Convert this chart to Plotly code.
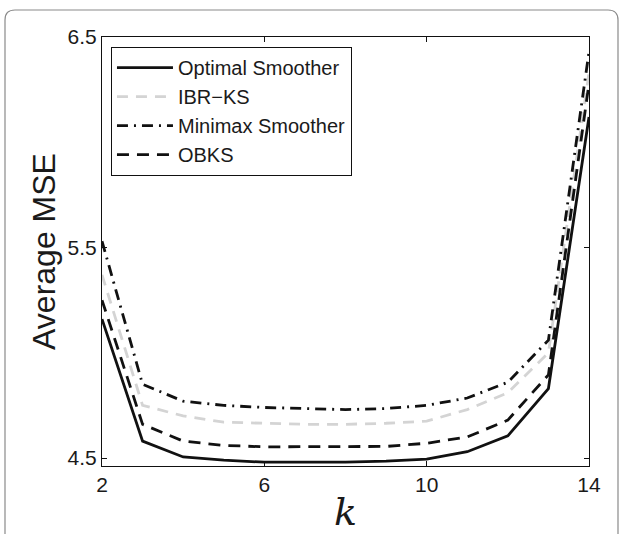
import plotly.graph_objects as go

k = [2, 3, 4, 5, 6, 7, 8, 9, 10, 11, 12, 13, 14]
optimal = [5.16, 4.58, 4.505, 4.49, 4.48, 4.48, 4.48, 4.485, 4.495, 4.53, 4.605, 4.83, 6.12]
ibr_ks = [5.37, 4.75, 4.70, 4.67, 4.665, 4.66, 4.66, 4.665, 4.675, 4.73, 4.81, 5.00, 6.33]
minimax = [5.53, 4.85, 4.77, 4.75, 4.74, 4.735, 4.73, 4.735, 4.75, 4.785, 4.86, 5.06, 6.43]
obks = [5.25, 4.66, 4.58, 4.56, 4.553, 4.553, 4.553, 4.555, 4.57, 4.60, 4.68, 4.895, 6.28]

x_ticks = [2, 6, 10, 14]
y_ticks = [4.5, 5.5, 6.5]

fig = go.Figure()
fig.add_trace(go.Scatter(x=k, y=optimal, mode="lines", name="Optimal Smoother",
                         line=dict(color="#111111", width=2.8)))
fig.add_trace(go.Scatter(x=k, y=ibr_ks, mode="lines", name="IBR\u2212KS",
                         line=dict(color="#d4d4d4", width=2.8, dash="11px,8px")))
fig.add_trace(go.Scatter(x=k, y=minimax, mode="lines", name="Minimax Smoother",
                         line=dict(color="#111111", width=2.8, dash="11px,6px,2px,6px")))
fig.add_trace(go.Scatter(x=k, y=obks, mode="lines", name="OBKS",
                         line=dict(color="#111111", width=2.8, dash="12px,8px")))

W, H = 623, 534
L, R, T, B = 102, 34, 37, 68
pw, ph = W - L - R, H - T - B

def px(xp):
    return (xp - L) / pw

def py(yp):
    return (H - B - yp) / ph

# rounded outer frame
x0, x1, y0, y1 = px(5), px(618), py(10), py(545)
rx, ry = 10 / pw, 10 / ph
path = (f"M {x0},{y1} L {x0},{y0 - ry} Q {x0},{y0} {x0 + rx},{y0} "
        f"L {x1 - rx},{y0} Q {x1},{y0} {x1},{y0 - ry} L {x1},{y1}")

fig.update_layout(
    width=W, height=H,
    margin=dict(l=L, r=R, t=T, b=B),
    paper_bgcolor="white", plot_bgcolor="white",
    font=dict(family="Liberation Sans, Arial, sans-serif", size=21, color="#1a1a1a"),
    showlegend=True,
    legend=dict(x=0.018, y=0.977, xanchor="left", yanchor="top",
                bgcolor="white", bordercolor="#111111", borderwidth=1.2,
                font=dict(size=20), tracegroupgap=0, itemwidth=56),
    shapes=[dict(type="path", xref="paper", yref="paper", path=path,
                 line=dict(color="#8a8a8a", width=1.2), layer="below")],
)
fig.update_xaxes(range=[2, 14], tickvals=x_ticks, ticktext=[str(v) for v in x_ticks],
                 ticks="inside", ticklen=5, tickcolor="#111111", mirror="ticks",
                 showline=True, linecolor="#111111", linewidth=1.2, showgrid=False,
                 zeroline=False, tickfont=dict(size=21), automargin=False,
                 title=dict(text="<i>k</i>", font=dict(family="DejaVu Serif, serif", size=38),
                            standoff=4))
fig.update_yaxes(range=[4.462, 6.5], tickvals=y_ticks, ticktext=[str(v) for v in y_ticks],
                 ticks="inside", ticklen=5, tickcolor="#111111", mirror="ticks",
                 showline=True, linecolor="#111111", linewidth=1.2, showgrid=False,
                 zeroline=False, tickfont=dict(size=21), automargin=False,
                 title=dict(text="Average MSE", font=dict(size=32), standoff=2))

fig.write_html("out.html", config={"displayModeBar": False},
               post_script="document.body.style.margin='0px';")
